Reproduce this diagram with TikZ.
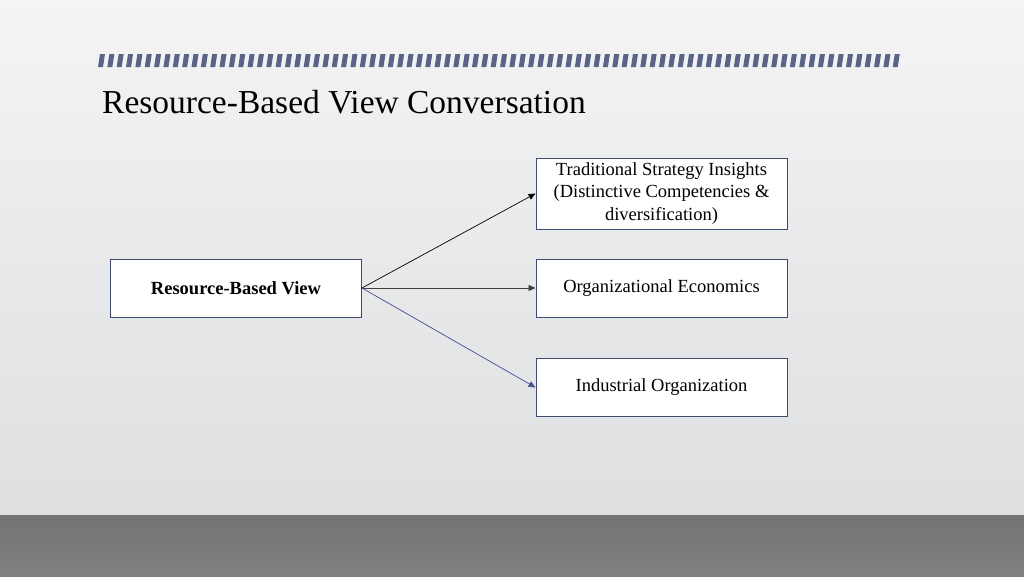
\documentclass[tikz,border=0pt]{standalone}
\usepackage{fontspec}
\setmainfont{Liberation Serif}
\usetikzlibrary{arrows.meta}
\definecolor{bgtop}{HTML}{F4F4F5}
\definecolor{bgbot}{HTML}{DEDFE1}
\definecolor{floor}{HTML}{808080}
\definecolor{stripe}{HTML}{5A6488}
\definecolor{boxline}{HTML}{3F4A70}
\definecolor{bluearr}{HTML}{4A5590}
\tikzset{
  box/.style={draw=boxline, line width=0.9pt, fill=white, minimum width=251pt, inner sep=2pt, align=center, font=\fontsize{18.5}{22.5}\selectfont},
  conn/.style={-{Triangle[length=7pt,width=6pt]}, line width=0.7pt}
}
\begin{document}
\begin{tikzpicture}[x=1pt,y=-1pt]
\useasboundingbox (0,0) rectangle (1024,576);
\shade[top color=bgtop, bottom color=bgbot] (0,0) rectangle (1024,515);
\shade[top color=floor!90!black, bottom color=floor] (0,515) rectangle (1024,576);
\foreach \i in {0,...,85} {
  \fill[stripe] ({98+\i*9.35+2},54) -- ({98+\i*9.35+7},54) -- ({98+\i*9.35+5},67) -- ({98+\i*9.35},67) -- cycle;
}
\node[anchor=west, inner sep=0pt, font=\fontsize{33.5}{40}\selectfont] (title) at (102,102) {Resource-Based View Conversation};
\node[box, minimum height=58pt, font=\fontsize{18.5}{22.5}\selectfont\bfseries] (rbv) at (236,288) {Resource-Based View};
\node[box, minimum height=71pt] (tsi) at (661.5,193.5) {Traditional Strategy Insights\\(Distinctive Competencies \&\\diversification)};
\node[box, minimum height=58pt] (oe) at (661.5,288) {Organizational Economics};
\node[box, minimum height=58pt] (io) at (661.5,387.5) {Industrial Organization};
\coordinate (src) at (rbv.east);
\draw[conn] (src) -- (tsi.west);
\draw[conn, draw=black!75] (src) -- (oe.west);
\draw[conn, draw=bluearr, fill=bluearr] (src) -- (io.west);
\end{tikzpicture}
\end{document}
